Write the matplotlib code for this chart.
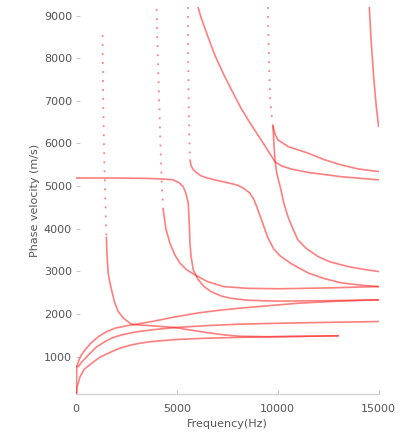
import matplotlib
matplotlib.use("Agg")
import matplotlib.pyplot as plt

# Dispersion branches: frequency (Hz) and phase velocity (m/s).
# "_steep" arrays are the sparse, near-cutoff parts (drawn dotted).

# branch rising from the origin (upper)
low1_f = [0, 15, 35, 150, 250, 447, 700, 1112, 1500, 1936, 2400, 2765, 3000, 3758,
          4800, 6000, 7000, 8130, 9500, 11000, 13000, 15000]
low1_v = [0, 400, 765, 930, 1030, 1157, 1300, 1469, 1580, 1666, 1710, 1744, 1760, 1821,
          1920, 2020, 2080, 2135, 2190, 2250, 2300, 2330]

# middle low branch
low2_f = [0, 120, 300, 615, 1000, 1440, 1800, 2270, 3000, 3758, 4900, 6500, 8130, 11000, 15000]
low2_v = [760, 770, 880, 1040, 1220, 1352, 1440, 1509, 1580, 1626, 1680, 1725, 1760, 1790, 1821]

# lowest branch
low3_f = [0, 50, 200, 400, 780, 1200, 1770, 2200, 2765, 3200, 3758, 5000, 6500, 8130, 10000, 13000]
low3_v = [0, 300, 531, 700, 845, 990, 1117, 1200, 1274, 1315, 1352, 1400, 1430, 1450, 1465, 1486]

# branch with cutoff near 1.3 kHz
a_steep_f = [1310, 1330, 1360, 1400, 1440, 1475, 1500]
a_steep_v = [8545, 7500, 6500, 5500, 4800, 4205, 3800]
a_f = [1500, 1530, 1590, 1680, 1757, 1900, 2085, 2350, 2665, 2830, 3500, 4200, 4900,
       5700, 6500, 7300, 8130, 9500, 11000, 13000]
a_v = [3800, 3400, 2956, 2720, 2565, 2280, 2056, 1900, 1784, 1750, 1730, 1705, 1680,
       1620, 1560, 1510, 1475, 1465, 1472, 1486]

# plateau branch starting near 5200 m/s
b_f = [0, 2000, 3500, 4300, 4810, 5100, 5310, 5450, 5560, 5610, 5645, 5700, 5810, 6060,
       6350, 6700, 7200, 7630, 8500, 10000, 12500, 15000]
b_v = [5190, 5188, 5180, 5165, 5146, 5080, 4988, 4820, 4600, 4150, 3660, 3350, 3034, 2800,
       2640, 2520, 2420, 2370, 2320, 2300, 2310, 2330]

# branch with cutoff near 4 kHz
c_steep_f = [3990, 4050, 4120, 4180, 4240, 4320]
c_steep_v = [9150, 8000, 7000, 6000, 5150, 4440]
c_f = [4320, 4450, 4650, 4900, 5150, 5500, 5890, 6500, 7300, 8500, 10110, 12500, 15000]
c_v = [4440, 4000, 3660, 3380, 3190, 3030, 2917, 2760, 2642, 2600, 2590, 2610, 2642]

# branch with cutoff near 5.5 kHz
g_steep_f = [5545, 5560, 5580, 5610, 5645]
g_steep_v = [9200, 8000, 7000, 6200, 5614]
g_f = [5645, 5700, 5800, 5977, 6200, 6473, 7000, 7500, 7962, 8300, 8607, 8800, 8955,
       9200, 9500, 9800, 10150, 10700, 11500, 12300, 13140, 14000, 15000]
g_v = [5614, 5480, 5390, 5310, 5240, 5192, 5130, 5080, 5028, 4950, 4840, 4700, 4519,
       4200, 3800, 3520, 3350, 3170, 2963, 2830, 2730, 2680, 2640]

# branch entering from the top near 6 kHz
d_f = [6040, 6200, 6540, 6900, 7370, 7800, 8180, 8600, 9020, 9450, 9860, 10200, 10670,
       11500, 13140, 15000]
d_v = [9200, 8950, 8500, 8050, 7569, 7170, 6826, 6500, 6194, 5880, 5570, 5470, 5400,
       5320, 5220, 5146]

# branches with cutoff near 9.5 kHz
f_steep_f = [9510, 9540, 9580, 9630, 9700, 9765]
f_steep_v = [9200, 8500, 7700, 7000, 6650, 6396]
f_f = [9765, 9810, 9860, 9950, 10160, 10300, 10510, 10750, 11000, 11400, 12000, 12600,
       13490, 14200, 15000]
f_v = [6396, 6000, 5610, 5300, 4910, 4600, 4276, 4000, 3738, 3540, 3346, 3220,
       3111, 3050, 2994]

e_f = [9765, 9880, 10010, 10510, 11500, 12300, 13140, 14000, 15000]
e_v = [6396, 6200, 6084, 5927, 5772, 5620, 5497, 5400, 5340]

# branch with cutoff near 14.5 kHz
h_f = [14540, 14620, 14750, 14880, 15000]
h_v = [9200, 8500, 7600, 6900, 6400]

yticks = [1000, 2000, 3000, 4000, 5000, 6000, 7000, 8000, 9000]
xticks = [0, 5000, 10000, 15000]

RED = "#ff2a2a"
solid = dict(color=RED, lw=1.2, alpha=0.6, solid_capstyle="round", solid_joinstyle="round")
dotted = dict(color=RED, lw=1.3, alpha=0.6, linestyle=(0, (1, 4)))

fig = plt.figure(figsize=(4.16, 4.41), dpi=100)
ax = fig.add_axes([0.183, 0.107, 0.727, 0.877])

for fx, vy in [(low1_f, low1_v), (low2_f, low2_v), (low3_f, low3_v),
               (a_f, a_v), (b_f, b_v), (c_f, c_v), (g_f, g_v),
               (d_f, d_v), (f_f, f_v), (e_f, e_v), (h_f, h_v)]:
    ax.plot(fx, vy, **solid)
for fx, vy in [(a_steep_f, a_steep_v), (c_steep_f, c_steep_v),
               (g_steep_f, g_steep_v), (f_steep_f, f_steep_v)]:
    ax.plot(fx, vy, **dotted)

ax.set_xlim(0, 15000)
ax.set_ylim(125, 9200)
ax.set_xticks(xticks)
ax.set_yticks(yticks)

for side in ["top", "right", "left"]:
    ax.spines[side].set_visible(False)
ax.spines["bottom"].set_color("#d4d4d4")
ax.spines["bottom"].set_linewidth(1.0)

ax.tick_params(axis="both", direction="in", length=3, width=0.8,
               color="#c8c8c8", labelcolor="#555555", labelsize=8)
ax.tick_params(axis="x", pad=7)
ax.tick_params(axis="y", pad=3)

ax.set_xlabel("Frequency(Hz)", fontsize=8, color="#555555", labelpad=4)
ax.set_ylabel("Phase velocity (m/s)", fontsize=8, color="#555555", labelpad=3)

fig.savefig("out.png", dpi=100, facecolor="white")
